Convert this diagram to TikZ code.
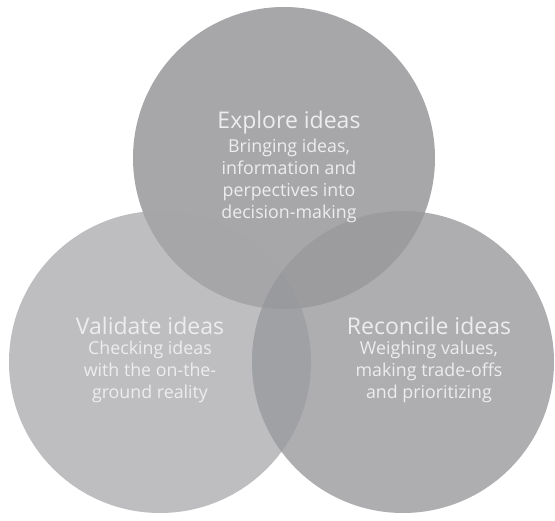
\documentclass[tikz,border=0pt]{standalone}
\usepackage{fontspec}
\setmainfont{Open Sans}
\definecolor{topfill}{HTML}{A7A7AA}
\definecolor{leftfill}{HTML}{BEBEC1}
\definecolor{rightfill}{HTML}{AEAEB1}
\definecolor{tlfill}{HTML}{A6A6A9}
\definecolor{trfill}{HTML}{9C9C9F}
\definecolor{lrfill}{HTML}{A0A1A4}
\definecolor{allfill}{HTML}{999A9D}
\definecolor{labeltext}{HTML}{EDEDED}
\begin{document}
\begin{tikzpicture}[x=1pt,y=-1pt,
  title/.style={text=labeltext,align=center,inner sep=0pt,font=\fontsize{23}{25}\selectfont},
  body/.style={text=labeltext,align=center,inner sep=0pt,font=\fontsize{17.8}{21.8}\selectfont}]
\useasboundingbox (0,0) rectangle (555,521);
% circle centres and common radius
\def\rad{151}
\coordinate (ct) at (284,158);
\coordinate (cl) at (160,362);
\coordinate (cr) at (403,362);
% plain discs
\fill[leftfill] (cl) circle (\rad);
\fill[rightfill] (cr) circle (\rad);
\fill[topfill] (ct) circle (\rad);
% pairwise overlaps
\begin{scope}
  \clip (ct) circle (\rad);
  \fill[trfill] (cr) circle (\rad);
  \fill[tlfill] (cl) circle (\rad);
\end{scope}
\begin{scope}
  \clip (cl) circle (\rad);
  \fill[lrfill] (cr) circle (\rad);
  \clip (cr) circle (\rad);
  \fill[allfill] (ct) circle (\rad);
\end{scope}
% labels
\node[title] (t1) at (289,123) {Explore ideas};
\node[body] (b1) at (289,181) {Bringing ideas,\\information and\\perpectives into\\decision-making};
\node[title] (t2) at (150,326) {Validate ideas};
\node[body] (b2) at (150,372) {Checking ideas\\with the on-the-\\ground reality};
\node[title] (t3) at (429,326) {Reconcile ideas};
\node[body] (b3) at (429,372) {Weighing values,\\making trade-offs\\and prioritizing};
\end{tikzpicture}
\end{document}
